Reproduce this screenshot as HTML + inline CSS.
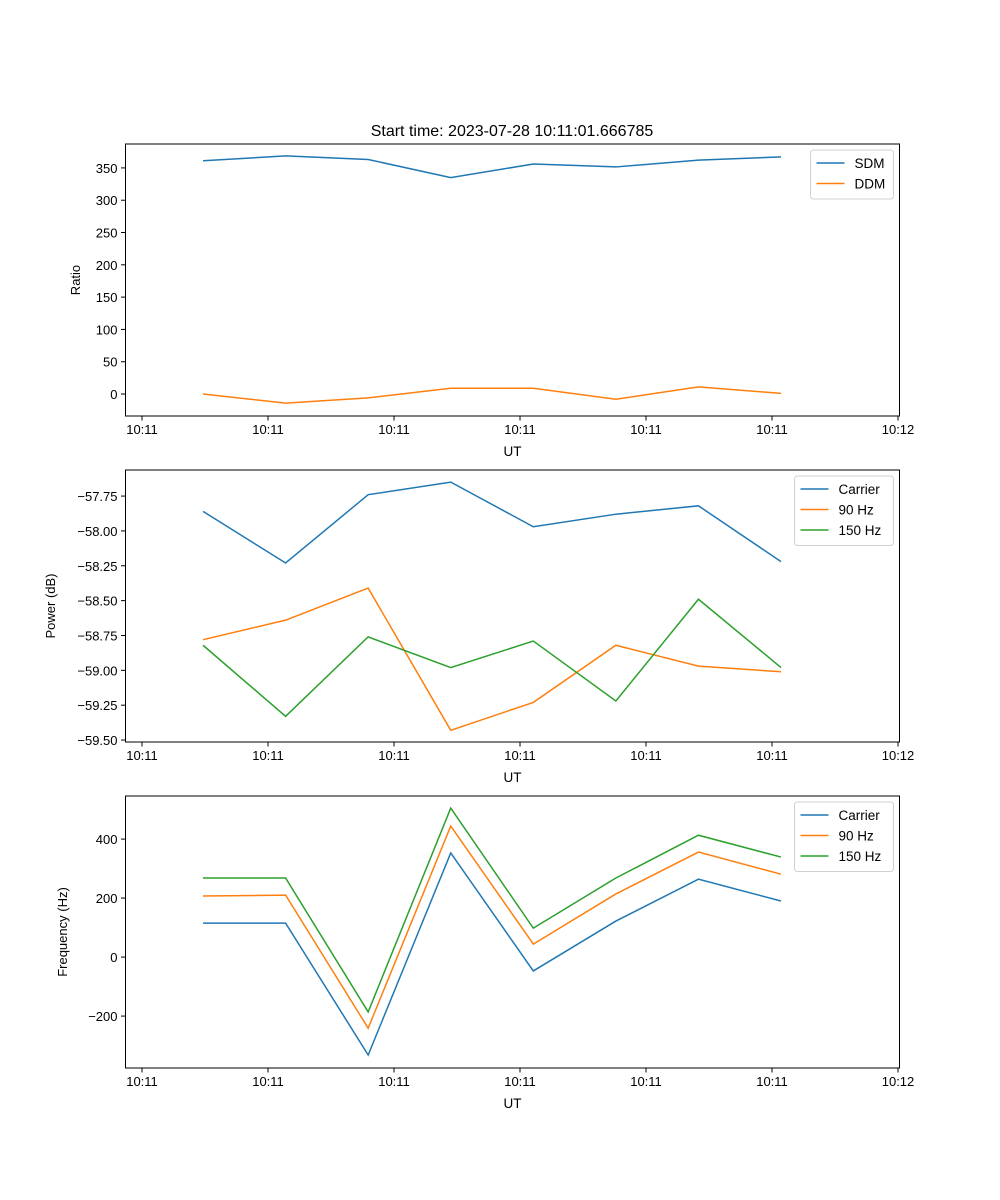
<!DOCTYPE html>
<html><head><meta charset="utf-8"><style>
body{margin:0;background:#fff;}
svg{display:block;font-family:"Liberation Sans","DejaVu Sans",sans-serif;}
</style></head><body>
<svg id="fig" width="1000" height="1200" viewBox="0 0 1000 1200"></svg>
<script>
const xIdx = [0,1,2,3,4,5,6,7];
const xTickPos = [-0.739,0.787,2.313,3.839,5.365,6.891,8.417];
const xTickLabels = ["10:11","10:11","10:11","10:11","10:11","10:11","10:12"];
const sdm = [361,368.6,363,335,356,351.5,362,367];
const ddm = [0,-14,-6,9,9,-8,11,1];
const pwrCarrier = [-57.86,-58.23,-57.74,-57.65,-57.97,-57.88,-57.82,-58.22];
const pwr90 = [-58.78,-58.64,-58.41,-59.43,-59.23,-58.82,-58.97,-59.01];
const pwr150 = [-58.82,-59.33,-58.76,-58.98,-58.79,-59.22,-58.49,-58.98];
const frqCarrier = [115,115,-332,353,-47,122,264,190];
const frq90 = [207,210,-241,444,44,214,356,281];
const frq150 = [268,268,-186,505,98,268,413,339];
const ticks1 = [0,50,100,150,200,250,300,350];
const ticks2 = [-59.5,-59.25,-59.0,-58.75,-58.5,-58.25,-58.0,-57.75];
const ticks3 = [-200,0,200,400];
const C = ["#1f77b4","#ff7f0e","#2ca02c"];
const NS="http://www.w3.org/2000/svg";
const svg=document.getElementById('fig');
function mk(t,a,p){const e=document.createElementNS(NS,t);for(const k in a)e.setAttribute(k,a[k]);(p||svg).appendChild(e);return e;}
const L=125.5,R=899.5;
const xMin=-0.939,xMax=8.435;
function xs(v){return L+(v-xMin)/(xMax-xMin)*(R-L);}
function panel(name,top,bot,ymin,ymax,ticks,fmt,series,names,ylabel,ylabX,legW){
  const g=mk('g',{});
  
  
  const ys=v=>bot-(v-ymin)/(ymax-ymin)*(bot-top);
  series.forEach((s,i)=>{
    const p=mk('polyline',{points:s.map((v,j)=>xs(xIdx[j])+','+ys(v)).join(' '),fill:'none',stroke:C[i],'stroke-width':1.5},g);
    
    
  });
  mk('rect',{x:L,y:top,width:R-L,height:bot-top,fill:'none',stroke:'#000','stroke-width':1},g);
  xTickPos.forEach((t,i)=>{const x=xs(t);
    mk('line',{x1:x,x2:x,y1:bot,y2:bot+4.5,stroke:'#000'},g);
    const tx=mk('text',{x:x,y:bot+18,'font-size':13,'text-anchor':'middle'},g);tx.textContent=xTickLabels[i];
    });
  ticks.forEach(t=>{const y=ys(t);
    mk('line',{x1:L-4.5,x2:L,y1:y,y2:y,stroke:'#000'},g);
    const tx=mk('text',{x:L-8,y:y+5,'font-size':13,'text-anchor':'end'},g);tx.textContent=fmt(t);
    });
  const xl=mk('text',{x:(L+R)/2,y:bot+40,'font-size':13.5,'text-anchor':'middle'},g);xl.textContent='UT';
  
  const yc=(top+bot)/2;
  const yl=mk('text',{x:ylabX,y:yc,'font-size':13,'text-anchor':'middle',transform:`rotate(-90 ${ylabX} ${yc})`},g);yl.textContent=ylabel;
  
  const lh=20.5,lx=R-6-legW,ly=top+6;
  const lg=mk('g',{},g);
  mk('rect',{x:lx,y:ly,width:legW,height:names.length*lh+8,rx:3,fill:'#fff',stroke:'#d0d0d0'},lg);
  names.forEach((n,i)=>{const yy=ly+13+i*lh;
    mk('line',{x1:lx+6,x2:lx+34,y1:yy,y2:yy,stroke:C[i],'stroke-width':1.5},lg);
    const t=mk('text',{x:lx+44,y:yy+5,'font-size':13.5},lg);t.textContent=n;
    });
}
const fmtN=v=>String(v).replace('-','\u2212');
const fmt2=v=>v.toFixed(2).replace('-','\u2212');
const title=mk('text',{x:512,y:136,'font-size':16,'text-anchor':'middle'});
title.textContent='Start time: 2023-07-28 10:11:01.666785';

panel('ratio-panel',144,416,-34,387,ticks1,fmtN,[sdm,ddm],['SDM','DDM'],'Ratio',80,83);
panel('power-panel',470,742,-59.514,-57.563,ticks2,fmt2,[pwrCarrier,pwr90,pwr150],['Carrier','90 Hz','150 Hz'],'Power (dB)',55,99);
panel('frequency-panel',796,1068,-376,546,ticks3,fmtN,[frqCarrier,frq90,frq150],['Carrier','90 Hz','150 Hz'],'Frequency (Hz)',67,99);
</script>
</body></html>
